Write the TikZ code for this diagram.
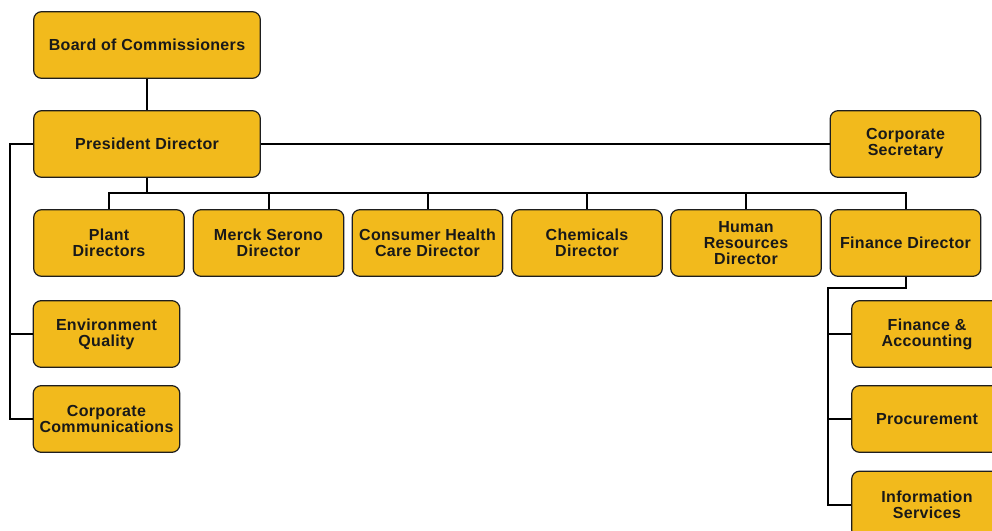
\documentclass[tikz,border=0pt]{standalone}
\usepackage{fontspec}
\setmainfont{Liberation Sans}[LetterSpace=2.0]
\usepackage{tikz}
\usepackage{xcolor}

\definecolor{boxgold}{RGB}{242,186,28}
\definecolor{boxline}{RGB}{30,30,30}

\tikzset{
  orgbox/.style={draw=boxline, line width=0.9pt, fill=boxgold, rounded corners=6pt,
    align=center, font=\fontsize{12}{12}\selectfont\bfseries, text=black!90,
    minimum width=113pt, minimum height=50pt, inner sep=1pt},
  widebox/.style={orgbox, minimum width=170pt},
  link/.style={draw=black, line width=1.5pt}
}

\begin{document}
\begin{tikzpicture}[x=0.75pt,y=-0.75pt]
            \useasboundingbox (0,0) rectangle (992,531);
            \clip (0,0) rectangle (992,531);

            \node[widebox] (board) at (147,45){Board of Commissioners};
            \node[widebox] (pres) at (147,144){President Director};
            \node[orgbox] (sec) at (905.5,144){Corporate\\Secretary};

            \node[orgbox] (plant) at (109,243){Plant\\Directors};
            \node[orgbox] (merck) at (268.5,243){Merck Serono\\Director};
            \node[orgbox] (chc) at (427.5,243){Consumer Health\\Care Director};
            \node[orgbox] (chem) at (587,243){Chemicals\\Director};
            \node[orgbox] (hr) at (746,243){Human\\Resources\\Director};
            \node[orgbox] (fin) at (905.5,243){Finance Director};

            \node[orgbox,minimum width=110pt] (env) at (106.5,334){Environment\\Quality};
            \node[orgbox,minimum width=110pt] (comm) at (106.5,419){Corporate\\Communications};

            \node[orgbox] (acct) at (927,334){Finance \&\\Accounting};
            \node[orgbox] (proc) at (927,419){Procurement};
            \node[orgbox] (info) at (927,504.5){Information\\Services};

            \coordinate (lft) at (10,144);
            \coordinate (bus) at (147,193);
            \coordinate (fbus) at (828,288);

            \draw[link] (board) -- (pres);
            \draw[link] (pres.east) -- (sec.west);
            \draw[link] (pres.west) -- (lft) |- (comm.west);
            \draw[link] (env.west) -| (lft);
            \draw[link] (pres.south) -- (bus);
            \foreach \n in {plant,merck,chc,chem,hr,fin}
              \draw[link] (bus) -| (\n.north);
            \draw[link] (fin.south) |- (fbus) |- (info.west);
            \draw[link] (fbus) |- (acct.west);
            \draw[link] (fbus) |- (proc.west);
        \end{tikzpicture}
\end{document}
